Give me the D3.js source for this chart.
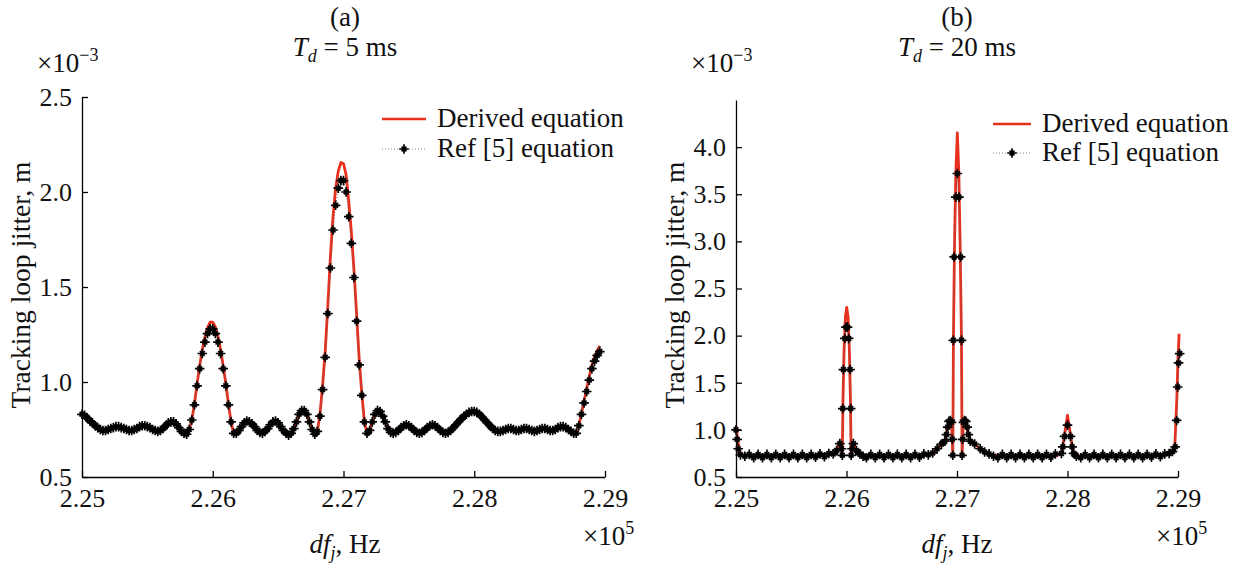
<!DOCTYPE html>
<head>
    <title>Tracking loop jitter</title>
    <script src="https://cdn.jsdelivr.net/npm/d3@7"></script>
</head>
<style>
body {
  margin: 0;
  background: #fff;
  font-family: "Liberation Serif", "DejaVu Serif", serif;
}
.axis path, .axis line { stroke: #000; stroke-width: 1.3; }
.axis text { font-family: "Liberation Serif", serif; font-size: 26px; fill: #111; }
text { fill: #111; }
</style>
<body>
    <svg></svg>
</body>

<script>

    // ---- Data (frequency in units of 1e5 Hz, jitter in units of 1e-3 m)
    var seriesNames = ["Derived equation", "Ref [5] equation"];
    var xTicks = [2.25, 2.26, 2.27, 2.28, 2.29];
    var yTicksA = [0.5, 1.0, 1.5, 2.0, 2.5];
    var yTicksB = [0.5, 1.0, 1.5, 2.0, 2.5, 3.0, 3.5, 4.0];

    // panel (a): Td = 5 ms, one sample every 0.0002 (x1e5 Hz) from 2.25
    var freqA = d3.range(199).map(function (i) { return 2.25 + i * 0.0002; });
    var refA = [
        0.83, 0.825, 0.81, 0.795, 0.785, 0.77, 0.76, 0.75, 0.745, 0.745,
        0.75, 0.755, 0.76, 0.765, 0.765, 0.76, 0.755, 0.75, 0.745, 0.745,
        0.75, 0.755, 0.765, 0.77, 0.77, 0.765, 0.76, 0.75, 0.745, 0.74,
        0.745, 0.755, 0.77, 0.785, 0.79, 0.79, 0.78, 0.76, 0.74, 0.73,
        0.725, 0.75, 0.80, 0.88, 0.98, 1.07, 1.15, 1.21, 1.255, 1.28,
        1.28, 1.255, 1.21, 1.15, 1.07, 0.98, 0.88, 0.79, 0.73, 0.73,
        0.745, 0.765, 0.785, 0.795, 0.79, 0.78, 0.765, 0.745, 0.735, 0.73,
        0.74, 0.755, 0.775, 0.79, 0.795, 0.785, 0.765, 0.745, 0.73, 0.72,
        0.73, 0.755, 0.79, 0.83, 0.85, 0.85, 0.83, 0.79, 0.75, 0.725,
        0.74, 0.82, 0.96, 1.13, 1.36, 1.60, 1.80, 1.93, 2.02, 2.06,
        2.06, 2.00, 1.87, 1.73, 1.55, 1.32, 1.09, 0.93, 0.79, 0.73,
        0.745, 0.79, 0.83, 0.85, 0.845, 0.82, 0.79, 0.755, 0.735, 0.73,
        0.735, 0.745, 0.76, 0.77, 0.775, 0.77, 0.76, 0.745, 0.735, 0.73,
        0.735, 0.745, 0.76, 0.77, 0.775, 0.77, 0.76, 0.745, 0.735, 0.73,
        0.735, 0.745, 0.76, 0.775, 0.79, 0.805, 0.82, 0.83, 0.84, 0.845,
        0.845, 0.84, 0.83, 0.815, 0.80, 0.785, 0.77, 0.755, 0.745, 0.74,
        0.74, 0.745, 0.75, 0.755, 0.755, 0.75, 0.745, 0.745, 0.75, 0.755,
        0.755, 0.75, 0.745, 0.74, 0.745, 0.75, 0.755, 0.755, 0.75, 0.745,
        0.745, 0.75, 0.76, 0.765, 0.765, 0.76, 0.75, 0.74, 0.73, 0.73,
        0.77, 0.83, 0.89, 0.95, 1.01, 1.07, 1.11, 1.14, 1.16
    ];
    var derivedA = [
        0.83, 0.825, 0.81, 0.795, 0.785, 0.77, 0.76, 0.75, 0.745, 0.745,
        0.75, 0.755, 0.76, 0.765, 0.765, 0.76, 0.755, 0.75, 0.745, 0.745,
        0.75, 0.755, 0.765, 0.77, 0.77, 0.765, 0.76, 0.75, 0.745, 0.74,
        0.745, 0.755, 0.77, 0.785, 0.79, 0.79, 0.78, 0.76, 0.74, 0.73,
        0.725, 0.75, 0.80, 0.885, 0.99, 1.085, 1.17, 1.235, 1.285, 1.315,
        1.315, 1.29, 1.24, 1.17, 1.085, 0.99, 0.885, 0.79, 0.73, 0.73,
        0.745, 0.765, 0.785, 0.795, 0.79, 0.78, 0.765, 0.745, 0.735, 0.73,
        0.74, 0.755, 0.775, 0.79, 0.795, 0.785, 0.765, 0.745, 0.73, 0.72,
        0.73, 0.755, 0.79, 0.835, 0.855, 0.855, 0.835, 0.79, 0.75, 0.725,
        0.74, 0.83, 0.98, 1.16, 1.40, 1.66, 1.87, 2.02, 2.11, 2.155,
        2.15, 2.09, 1.95, 1.79, 1.59, 1.36, 1.12, 0.94, 0.79, 0.73,
        0.745, 0.79, 0.83, 0.85, 0.845, 0.82, 0.79, 0.755, 0.735, 0.73,
        0.735, 0.745, 0.76, 0.77, 0.775, 0.77, 0.76, 0.745, 0.735, 0.73,
        0.735, 0.745, 0.76, 0.77, 0.775, 0.77, 0.76, 0.745, 0.735, 0.73,
        0.735, 0.745, 0.76, 0.775, 0.79, 0.805, 0.82, 0.83, 0.84, 0.845,
        0.845, 0.84, 0.83, 0.815, 0.80, 0.785, 0.77, 0.755, 0.745, 0.74,
        0.74, 0.745, 0.75, 0.755, 0.755, 0.75, 0.745, 0.745, 0.75, 0.755,
        0.755, 0.75, 0.745, 0.74, 0.745, 0.75, 0.755, 0.755, 0.75, 0.745,
        0.745, 0.75, 0.76, 0.765, 0.765, 0.76, 0.75, 0.74, 0.73, 0.73,
        0.77, 0.835, 0.90, 0.965, 1.03, 1.09, 1.13, 1.165, 1.19
    ];

    // panel (b): Td = 20 ms, [frequency, jitter] pairs
    var refB = [
        [2.2500, 1.00], [2.2501, 0.90], [2.2502, 0.80], [2.2504, 0.735],
        [2.2508, 0.72], [2.2512, 0.74], [2.2516, 0.705], [2.2520, 0.74], [2.2524, 0.705],
        [2.2528, 0.74], [2.2532, 0.705], [2.2536, 0.74], [2.2540, 0.705], [2.2544, 0.74],
        [2.2548, 0.705], [2.2552, 0.74], [2.2556, 0.705], [2.2560, 0.74], [2.2564, 0.705],
        [2.2568, 0.74], [2.2572, 0.71], [2.2576, 0.745], [2.2580, 0.715], [2.2584, 0.75],
        [2.2588, 0.745], [2.2591, 0.78],
        [2.2594, 0.855], [2.25955, 0.80], [2.25962, 0.73], [2.25966, 1.226], [2.25972, 1.64],
        [2.25985, 1.97], [2.25995, 2.09], [2.2601, 2.09], [2.2602, 1.97], [2.26032, 1.64],
        [2.26038, 1.226], [2.26042, 0.73], [2.2605, 0.80], [2.26062, 0.855], [2.2609, 0.78],
        [2.2612, 0.745], [2.2615, 0.72],
        [2.2618, 0.705], [2.2622, 0.74], [2.2626, 0.705], [2.2630, 0.74], [2.2634, 0.705],
        [2.2638, 0.74], [2.2642, 0.705], [2.2646, 0.74], [2.2650, 0.705], [2.2654, 0.74],
        [2.2658, 0.705], [2.2662, 0.74], [2.2666, 0.71], [2.2670, 0.745], [2.2674, 0.735],
        [2.2678, 0.755], [2.2682, 0.80], [2.2686, 0.85], [2.2689, 0.88], [2.26905, 0.95],
        [2.26916, 1.03], [2.26928, 1.09], [2.2694, 1.10], [2.2695, 1.08], [2.26957, 0.90],
        [2.26962, 0.73],
        [2.26967, 1.95], [2.26974, 2.835], [2.26989, 3.47], [2.27003, 3.72], [2.27018, 3.47],
        [2.27033, 2.835], [2.27041, 1.95], [2.27046, 0.73], [2.27051, 0.90], [2.27058, 1.08],
        [2.27068, 1.10], [2.2708, 1.09], [2.27092, 1.03], [2.27103, 0.95], [2.2712, 0.88],
        [2.2716, 0.85], [2.2721, 0.80], [2.2725, 0.765], [2.2729, 0.745], [2.2733, 0.72],
        [2.2737, 0.705], [2.2741, 0.74], [2.2745, 0.705], [2.2749, 0.74], [2.2753, 0.705],
        [2.2757, 0.74], [2.2761, 0.705], [2.2765, 0.74], [2.2769, 0.705], [2.2773, 0.74],
        [2.2777, 0.705], [2.2781, 0.74], [2.2785, 0.71], [2.2789, 0.745],
        [2.27945, 0.75], [2.27958, 0.82], [2.27973, 0.93], [2.2800, 1.05], [2.28027, 0.93],
        [2.28042, 0.82], [2.28055, 0.75], [2.2808, 0.72],
        [2.2812, 0.705], [2.2816, 0.74], [2.2820, 0.705], [2.2824, 0.74], [2.2828, 0.705],
        [2.2832, 0.74], [2.2836, 0.705], [2.2840, 0.74], [2.2844, 0.705], [2.2848, 0.74],
        [2.2852, 0.705], [2.2856, 0.74], [2.2860, 0.705], [2.2864, 0.74], [2.2868, 0.705],
        [2.2872, 0.74], [2.2876, 0.71], [2.2880, 0.745], [2.2884, 0.715], [2.2888, 0.745],
        [2.2892, 0.75], [2.2895, 0.77], [2.28975, 0.82], [2.28988, 1.10], [2.28997, 1.455],
        [2.29005, 1.71], [2.29015, 1.81]
    ];
    var derivedB = [
        [2.2500, 1.04], [2.25012, 0.93], [2.25025, 0.82], [2.2504, 0.74], [2.2510, 0.725],
        [2.2520, 0.72], [2.2530, 0.725], [2.2540, 0.72], [2.2550, 0.725], [2.2560, 0.72],
        [2.2570, 0.725], [2.2580, 0.73], [2.2588, 0.745], [2.2591, 0.78], [2.2594, 0.86],
        [2.25955, 0.80], [2.25962, 0.72], [2.25968, 1.30], [2.25978, 1.85], [2.2599, 2.20],
        [2.26002, 2.30], [2.26014, 2.20], [2.26026, 1.85], [2.26036, 1.30], [2.26042, 0.72],
        [2.2605, 0.80], [2.26062, 0.86], [2.2609, 0.78], [2.2612, 0.745], [2.2620, 0.72],
        [2.2630, 0.725], [2.2640, 0.72], [2.2650, 0.725], [2.2660, 0.72], [2.2670, 0.73],
        [2.2678, 0.755], [2.2682, 0.80], [2.2686, 0.85], [2.2689, 0.88], [2.26905, 0.95],
        [2.26916, 1.03], [2.26928, 1.10], [2.2694, 1.11], [2.2695, 1.09], [2.26957, 0.90],
        [2.26962, 0.72], [2.26968, 2.00], [2.26978, 3.00], [2.2699, 3.75], [2.27003, 4.15],
        [2.27016, 3.75], [2.27028, 3.00], [2.2704, 2.00], [2.27046, 0.72], [2.27051, 0.90],
        [2.27058, 1.09], [2.27068, 1.11], [2.2708, 1.10], [2.27092, 1.03], [2.27103, 0.95],
        [2.2712, 0.88], [2.2716, 0.85], [2.2721, 0.80], [2.2725, 0.765], [2.2730, 0.74],
        [2.2740, 0.72], [2.2750, 0.725], [2.2760, 0.72], [2.2770, 0.725], [2.2780, 0.72],
        [2.2790, 0.725], [2.27945, 0.75], [2.27958, 0.83], [2.2798, 1.00], [2.2800, 1.155],
        [2.2802, 1.00], [2.28042, 0.83], [2.28055, 0.75], [2.2810, 0.725], [2.2820, 0.72],
        [2.2830, 0.725], [2.2840, 0.72], [2.2850, 0.725], [2.2860, 0.72], [2.2870, 0.725],
        [2.2880, 0.73], [2.2888, 0.735], [2.2893, 0.75], [2.2896, 0.78], [2.28972, 0.85],
        [2.2899, 1.35], [2.2900, 1.75], [2.2901, 2.02]
    ];

    // ---- Layout
    var width = 1236;
    var height = 570;
    var baseY = 477;
    var red = "#e8301f";

    var svg = d3.select("svg")
        .attr("width", width)
        .attr("height", height)
        .attr("font-family", "'Liberation Serif', serif");

    var markerPath = "M-4.8,0H4.8M0,-4.8V4.8M-2.4,-2.4L2.4,2.4M-2.4,2.4L2.4,-2.4";

    // one "+" marker of the reference series
    function addMarker(sel) {
        sel.append("path")
            .attr("d", markerPath)
            .attr("fill", "none")
            .attr("stroke", "#000")
            .attr("stroke-width", 1.7);
        sel.append("circle").attr("r", 1.8).attr("fill", "#000");
    }

    // draw one panel
    function drawPanel(p) {
        var x = d3.scaleLinear().domain([2.25, 2.29]).range([p.left, p.right]);
        var y = d3.scaleLinear().domain(p.yDomain).range([baseY, p.top]);
        var g = svg.append("g");

        var line = d3.line()
            .x(function (d) { return x(d[0]); })
            .y(function (d) { return y(d[1]); });

        // axes, ticks pointing inwards
        g.append("g").attr("class", "axis")
            .attr("transform", "translate(0," + baseY + ")")
            .call(d3.axisBottom(x).tickValues(xTicks).tickSizeInner(-6).tickSizeOuter(0)
                .tickPadding(12).tickFormat(d3.format(".2f")));
        g.append("g").attr("class", "axis")
            .attr("transform", "translate(" + p.left + ",0)")
            .call(d3.axisLeft(y).tickValues(p.yTicks).tickSizeInner(-6).tickSizeOuter(0)
                .tickPadding(10).tickFormat(d3.format(".1f")));

        // derived equation (red) under the reference equation
        g.append("path").datum(p.derived)
            .attr("d", line)
            .attr("fill", "none")
            .attr("stroke", red)
            .attr("stroke-width", 2.8)
            .attr("stroke-linejoin", "round");

        g.append("path").datum(p.ref)
            .attr("d", line)
            .attr("fill", "none")
            .attr("stroke", "#666")
            .attr("stroke-width", 0.8)
            .attr("stroke-dasharray", "1,2");

        g.selectAll(".mk").data(p.ref).enter().append("g")
            .attr("class", "mk")
            .attr("transform", function (d) { return "translate(" + x(d[0]) + "," + y(d[1]) + ")"; })
            .call(addMarker);

        // titles
        g.append("text").attr("x", p.cx).attr("y", 26)
            .attr("text-anchor", "middle").attr("font-size", 27).text(p.label);
        var t = g.append("text").attr("x", p.cx).attr("y", 56)
            .attr("text-anchor", "middle").attr("font-size", 27);
        t.append("tspan").attr("font-style", "italic").text("T");
        t.append("tspan").attr("font-style", "italic").attr("font-size", 18).attr("dy", 6).text("d");
        t.append("tspan").attr("dy", -6).text(" = " + p.td);

        // exponent above y axis
        var e = g.append("text").attr("x", p.left - 45).attr("y", 72).attr("font-size", 27);
        e.append("tspan").text("\u00d710");
        e.append("tspan").attr("font-size", 18).attr("dy", -11).text("\u22123");

        // exponent under x axis
        var e5 = g.append("text").attr("x", p.right - 22).attr("y", 545).attr("font-size", 27);
        e5.append("tspan").text("\u00d710");
        e5.append("tspan").attr("font-size", 18).attr("dy", -11).text("5");

        // axis titles
        var xl = g.append("text").attr("x", p.cx).attr("y", 553)
            .attr("text-anchor", "middle").attr("font-size", 27);
        xl.append("tspan").attr("font-style", "italic").text("df");
        xl.append("tspan").attr("font-style", "italic").attr("font-size", 18).attr("dy", 6).text("j");
        xl.append("tspan").attr("dy", -6).text(", Hz");

        g.append("text")
            .attr("transform", "translate(" + (p.left - 52) + ",285)rotate(-90)")
            .attr("text-anchor", "middle").attr("font-size", 27.5)
            .text("Tracking loop jitter, m");

        // legend
        var lg = g.append("g").attr("transform", "translate(" + p.legX + "," + p.legY + ")");
        lg.append("line").attr("x1", 0).attr("x2", p.legW).attr("y1", 0).attr("y2", 0)
            .attr("stroke", red).attr("stroke-width", 2.6);
        lg.append("text").attr("x", p.legW + 11).attr("y", 8).attr("font-size", 27).text(seriesNames[0]);
        lg.append("line").attr("x1", 0).attr("x2", p.legW).attr("y1", p.legGap).attr("y2", p.legGap)
            .attr("stroke", "#666").attr("stroke-width", 0.8).attr("stroke-dasharray", "1,2");
        lg.append("g").attr("transform", "translate(" + p.legW / 2 + "," + p.legGap + ")")
            .call(addMarker);
        lg.append("text").attr("x", p.legW + 11).attr("y", p.legGap + 8).attr("font-size", 27).text(seriesNames[1]);
    }

    drawPanel({
        left: 82, right: 605, top: 97, cx: 345,
        yDomain: [0.5, 2.5], yTicks: yTicksA,
        label: "(a)", td: "5 ms",
        ref: freqA.map(function (f, i) { return [f, refA[i]]; }),
        derived: freqA.map(function (f, i) { return [f, derivedA[i]]; }),
        legX: 382, legY: 119, legW: 44, legGap: 30
    });

    drawPanel({
        left: 736, right: 1178, top: 100, cx: 957,
        yDomain: [0.5, 4.5], yTicks: yTicksB,
        label: "(b)", td: "20 ms",
        ref: refB, derived: derivedB,
        legX: 993, legY: 124, legW: 38, legGap: 29
    });

</script>
